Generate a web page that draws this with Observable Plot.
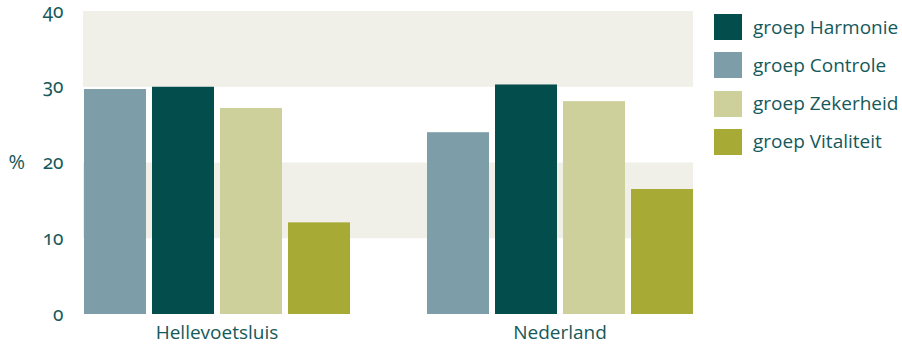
<!DOCTYPE html>
<html><head><meta charset="utf-8">
<script src="https://cdn.jsdelivr.net/npm/d3@7"></script>
<script src="https://cdn.jsdelivr.net/npm/@observablehq/plot@0.6"></script>
<style>
html,body{margin:0;padding:0;background:#fff;}
#wrap{position:relative;width:902px;height:344px;font-family:"Open Sans",sans-serif;color:#15595a;}
#back,#front{position:absolute;left:0;top:0;}
#legend{position:absolute;left:714px;top:14px;}
.row{display:flex;align-items:center;height:26px;margin-bottom:12.3px;font-size:19px;line-height:1;}
.sw{width:28px;height:26px;margin-right:11px;flex:none;}
.yax text{font-family:"Noto Sans",sans-serif;font-variant-numeric:oldstyle-nums;font-feature-settings:"onum" 1;}
</style></head><body><div id="wrap"><div id="back"></div><div id="front"></div><div id="legend"></div></div>
<script>
const regions = ["Hellevoetsluis", "Nederland"];
const groups = ["groep Controle", "groep Harmonie", "groep Zekerheid", "groep Vitaliteit"];
const legendOrder = ["groep Harmonie", "groep Controle", "groep Zekerheid", "groep Vitaliteit"];
const hellevoetsluis = [29.7, 30.0, 27.2, 12.1];
const nederland = [24.0, 30.3, 28.1, 16.5];
const colors = ["#034e4c", "#7d9ea8", "#cdd09b", "#a7aa35"];
const yTicks = [0, 10, 20, 30, 40];
const bandFrom = [10, 30];
const bandTo = [20, 40];
const yUnit = "%";

const seriesByRegion = [hellevoetsluis, nederland];
const data = regions.flatMap((r, i) => groups.map((g, j) => ({region: r, group: g, value: seriesByRegion[i][j]})));
const bands = bandFrom.map((lo, i) => ({lo, hi: bandTo[i]}));

const common = {
  width: 902, height: 344,
  marginTop: 11, marginBottom: 30, marginLeft: 83, marginRight: 209,
  style: {fontFamily: "Open Sans, sans-serif", fontSize: "19px", color: "#15595a", background: "transparent", overflow: "visible"},
  y: {domain: [0, 40], label: null}
};

const back = Plot.plot({
  ...common,
  marks: [
    Plot.rect(bands, {y1: "lo", y2: "hi", fill: "#f0f0e8"}),
    Plot.axisY({ticks: yTicks, tickSize: 0, tickPadding: 20, label: null, fontSize: 19, className: "yax"}),
    Plot.text([yUnit], {text: d => d, frameAnchor: "left", dx: -75, fill: "currentColor", fontSize: 20})
  ]
});
document.getElementById("back").appendChild(back);

const front = Plot.plot({
  ...common,
  fx: {domain: regions, paddingInner: 0.2216, paddingOuter: 0, label: null},
  x: {domain: groups, paddingInner: 0.0927, paddingOuter: 0, axis: null},
  color: {domain: legendOrder, range: colors},
  marks: [
    Plot.barY(data, {fx: "region", x: "group", y: "value", fill: "group"}),
    Plot.axisFx({anchor: "bottom", tickSize: 0, tickPadding: 11, label: null, fontSize: 19}),
    Plot.axisY({ticks: [], label: null})
  ]
});
document.getElementById("front").appendChild(front);

const color = front.scale("color");
const legend = document.getElementById("legend");
legendOrder.forEach((g) => {
  const row = document.createElement("div");
  row.className = "row";
  const sw = document.createElement("div");
  sw.className = "sw";
  sw.style.background = colors[color.domain.indexOf(g)];
  const t = document.createElement("span");
  t.textContent = g;
  row.appendChild(sw); row.appendChild(t);
  legend.appendChild(row);
});
</script></body></html>
